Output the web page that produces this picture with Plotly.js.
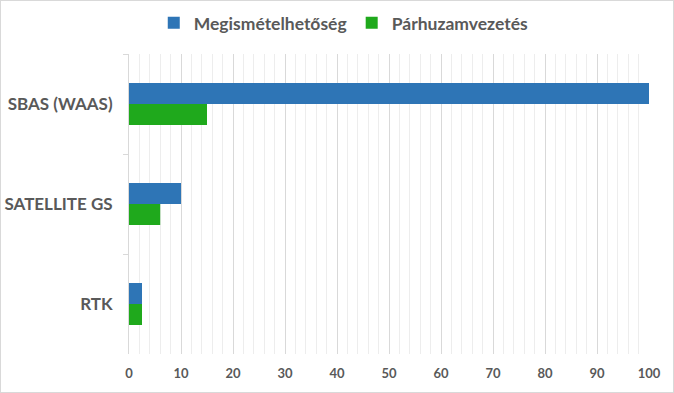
<!DOCTYPE html>
<html><head><meta charset="utf-8">
<script src="https://cdn.plot.ly/plotly-3.0.1.min.js"></script>
<style>
html,body{margin:0;padding:0;background:#fff;}
#chart{width:674px;height:393px;box-sizing:border-box;border:1px solid #d9d9d9;}
</style></head>
<body><div id="chart"></div>
<script>
const categories = ["SBAS (WAAS)", "SATELLITE GS", "RTK"];
const seriesNames = ["Megismételhetőség", "Párhuzamvezetés"];
const repeatability = [100, 10, 2.5];
const parallelGuidance = [15, 6, 2.5];
const xTickVals = [0,10,20,30,40,50,60,70,80,90,100];

const fontFam = "Lato, Open Sans, Liberation Sans, sans-serif";
const data = [
  {type:"bar", orientation:"h", name:seriesNames[0], y:categories, x:repeatability,
   marker:{color:"#2E75B6"}, hoverinfo:"x+y"},
  {type:"bar", orientation:"h", name:seriesNames[1], y:categories, x:parallelGuidance,
   marker:{color:"#1FA91C"}, hoverinfo:"x+y"}
];
const layout = {
  width:672, height:391,
  margin:{l:128, r:24, t:53, b:38},
  paper_bgcolor:"#fff", plot_bgcolor:"#fff",
  barmode:"group", bargap:0.58, bargroupgap:0,
  font:{family:fontFam, color:"#595959"},
  showlegend:true,
  legend:{orientation:"h", x:0.413, xanchor:"center", y:0.944, yanchor:"middle", yref:"container",
          font:{size:17.5, color:"#595959", family:fontFam, weight:"bold"}, itemwidth:30},
  xaxis:{range:[0,100], tickvals:xTickVals, showgrid:true, gridcolor:"#d9d9d9", gridwidth:1,
         minor:{dtick:2, showgrid:true, gridcolor:"#ededed", gridwidth:1},
         zeroline:false, showline:false, ticks:"",
         tickfont:{size:13, color:"#595959", family:fontFam, weight:"bold"}, ticklabelstandoff:10, fixedrange:true},
  yaxis:{type:"category", autorange:"reversed", showline:true, linecolor:"#d9d9d9", linewidth:1,
         ticks:"outside", tickson:"boundaries", ticklen:5, tickcolor:"#d9d9d9",
         tickfont:{size:17, color:"#595959", family:fontFam, weight:"bold"}, ticklabelstandoff:12,
         showgrid:false, zeroline:false, fixedrange:true}
};
Plotly.newPlot("chart", data, layout, {displayModeBar:false, staticPlot:true});
</script></body></html>
